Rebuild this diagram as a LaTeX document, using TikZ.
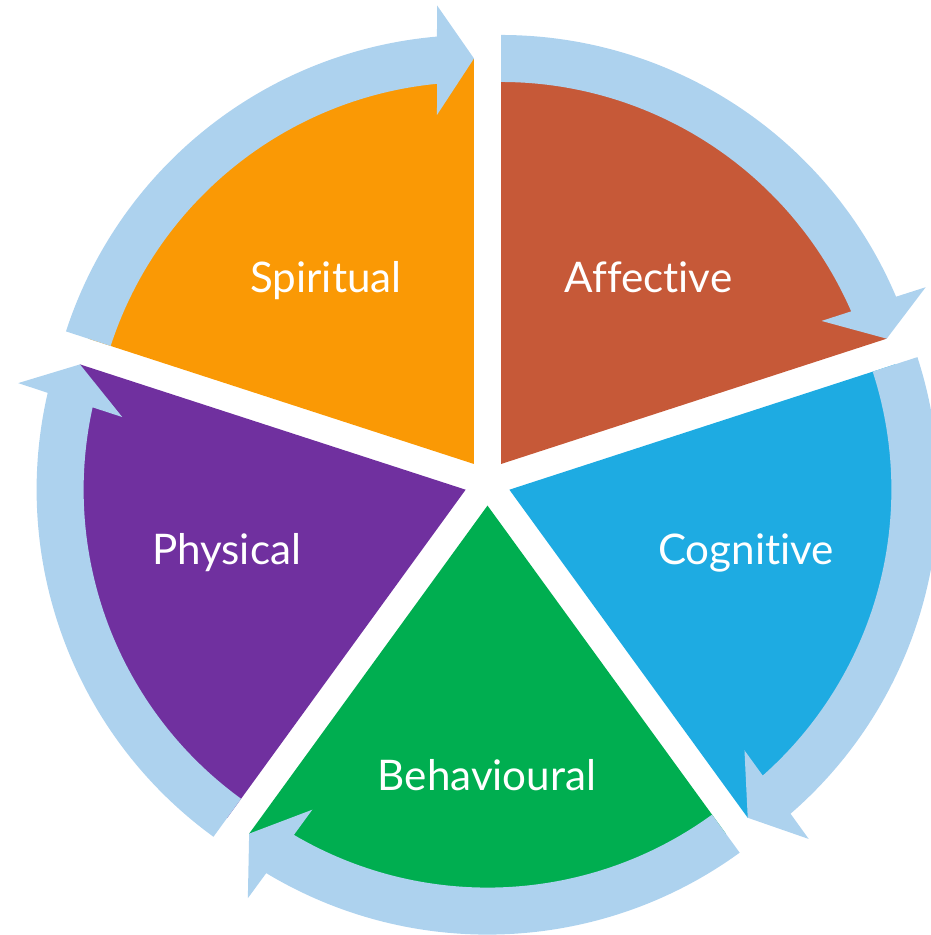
\documentclass[tikz,border=0pt]{standalone}
\usepackage{fontspec}
\setmainfont{Lato}[Ligatures=NoCommon]
\definecolor{spiritualc}{HTML}{FA9905}
\definecolor{affectivec}{HTML}{C65938}
\definecolor{cognitivec}{HTML}{1EABE2}
\definecolor{behaviouralc}{HTML}{00AE50}
\definecolor{physicalc}{HTML}{70309F}
\definecolor{ringblue}{HTML}{ADD2EE}
\tikzstyle{wedge} = [draw=none]
\tikzstyle{ringarrow} = [draw=none, fill=ringblue]
\tikzstyle{seglabel} = [text=white, anchor=base, inner sep=0pt, font=\fontsize{24}{28}\selectfont]

\begin{document}
\begin{tikzpicture}[x=0.02cm, y=0.02cm]
    \useasboundingbox (-487.5,-452.4) rectangle (442.5,482.6);
    % Draw segments and the arrows round them
    \foreach \b/\col in {126/spiritualc, 54/affectivec, -18/cognitivec, -90/behaviouralc, -162/physicalc} {
        \begin{scope}[shift={(\b:23)}, rotate=\b]
            \fill [wedge, \col] (0,0) -- (36:405.5) arc[start angle=36, end angle=-36, radius=405.5] -- cycle;
            \fill [ringarrow] (36:382) -- (36:429) arc[start angle=36, end angle=-31.05, radius=429]
                -- (-31.4:460) -- (-36:405.5) -- (-29.95:351) -- (-30.45:382)
                arc[start angle=-30.45, end angle=36, radius=382] -- cycle;
        \end{scope}
    }
    % Place labels
    \node [seglabel] (spiritual) at (-161.5,189.6) {Spiritual};
    \node [seglabel] (affective) at (161,189.6) {Affective};
    \node [seglabel] (cognitive) at (258.5,-82.4) {Cognitive};
    \node [seglabel] (behavioural) at (-0.5,-307.4) {Behavioural};
    \node [seglabel] (physical) at (-261,-82.4) {Physical};
\end{tikzpicture}
\end{document}
